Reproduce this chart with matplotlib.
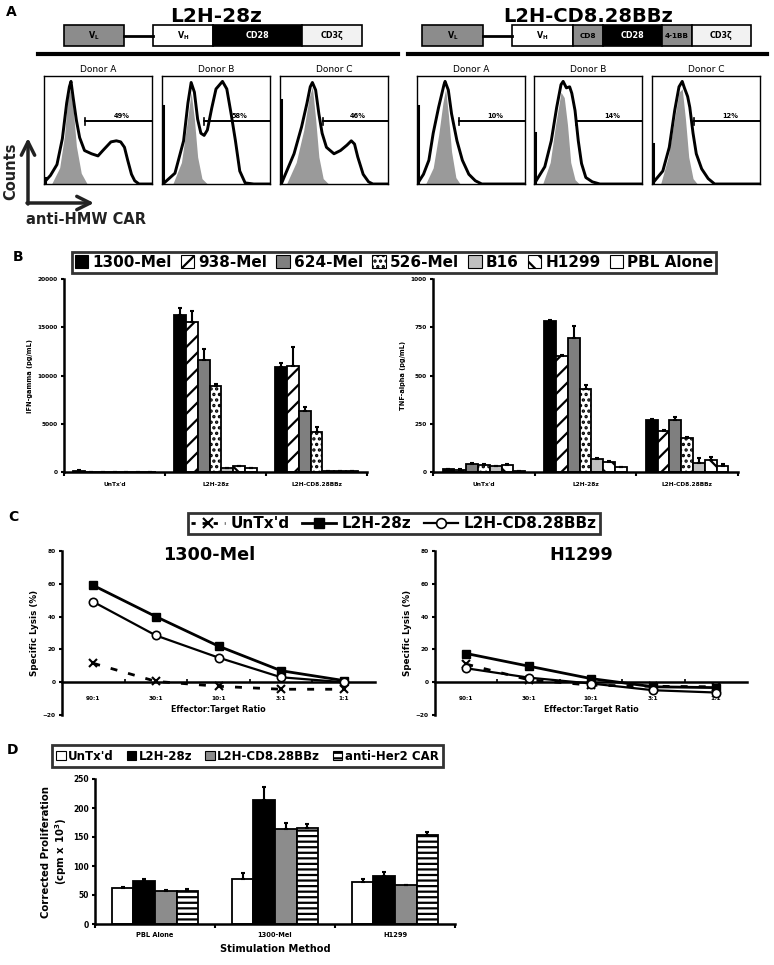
import numpy as np
import matplotlib
matplotlib.use("Agg")
import matplotlib.pyplot as plt
from matplotlib.patches import Patch, Rectangle
from matplotlib.lines import Line2D

W, H = 774, 965

# ---- panel A: flow histograms, x/y as fractions of each plot box
donors = ["Donor A", "Donor B", "Donor C"]
gate_28z = ["49%", "58%", "46%"]
gate_bbz = ["10%", "14%", "12%"]
gate_start_28z = [0.38, 0.39, 0.40]
gate_start_bbz = [0.385, 0.39, 0.39]
edge_28z = [0.06, 0.72, 0.78]
edge_bbz = [0.72, 0.47, 0.37]

car28_x = [[0.015, 0.06, 0.12, 0.17, 0.21, 0.235, 0.25, 0.27, 0.30, 0.33, 0.375, 0.44, 0.50,
            0.545, 0.62, 0.67, 0.71, 0.745, 0.775, 0.81, 0.84, 0.88, 0.99],
           [0.02, 0.12, 0.2, 0.24, 0.27, 0.30, 0.33, 0.36, 0.39, 0.42, 0.46, 0.5, 0.56, 0.6,
            0.64, 0.68, 0.72, 0.77, 0.85, 0.99],
           [0.02, 0.13, 0.2, 0.25, 0.28, 0.3, 0.33, 0.36, 0.39, 0.43, 0.5, 0.56, 0.62, 0.66,
            0.69, 0.72, 0.77, 0.82, 0.86, 0.99]]
car28_y = [[0.03, 0.08, 0.18, 0.42, 0.75, 0.90, 0.95, 0.80, 0.59, 0.43, 0.31, 0.28, 0.26,
            0.31, 0.39, 0.40, 0.39, 0.34, 0.22, 0.09, 0.03, 0.0, 0.0],
           [0.01, 0.1, 0.4, 0.75, 0.94, 0.85, 0.6, 0.47, 0.45, 0.5, 0.7, 0.88, 0.95, 0.88,
            0.65, 0.4, 0.12, 0.01, 0.0, 0.0],
           [0.02, 0.28, 0.53, 0.75, 0.9, 0.94, 0.87, 0.65, 0.47, 0.34, 0.28, 0.31, 0.36, 0.40,
            0.37, 0.25, 0.09, 0.02, 0.0, 0.0]]
neg28_x = [[0.07, 0.145, 0.19, 0.22, 0.245, 0.27, 0.30, 0.345, 0.40],
           [0.1, 0.18, 0.23, 0.27, 0.30, 0.33, 0.37, 0.42],
           [0.06, 0.15, 0.22, 0.27, 0.3, 0.33, 0.36, 0.4, 0.45]]
neg28_y = [[0, 0.15, 0.45, 0.80, 0.88, 0.70, 0.35, 0.10, 0.0],
           [0, 0.2, 0.55, 0.85, 0.6, 0.25, 0.05, 0],
           [0, 0.2, 0.5, 0.8, 0.9, 0.6, 0.25, 0.05, 0]]

carbb_x = [[0.015, 0.06, 0.11, 0.15, 0.2, 0.25, 0.26, 0.29, 0.32, 0.37, 0.42, 0.48, 0.54, 0.6, 0.99],
           [0.02, 0.1, 0.16, 0.21, 0.25, 0.27, 0.3, 0.33, 0.35, 0.38, 0.41, 0.44, 0.48, 0.54, 0.61, 0.99],
           [0.025, 0.1, 0.16, 0.21, 0.25, 0.28, 0.3, 0.33, 0.35, 0.38, 0.41, 0.46, 0.52, 0.58, 0.99]]
carbb_y = [[0.02, 0.09, 0.22, 0.47, 0.71, 0.92, 0.95, 0.87, 0.65, 0.4, 0.22, 0.09, 0.03, 0.0, 0.0],
           [0.03, 0.16, 0.4, 0.71, 0.92, 0.95, 0.89, 0.9, 0.84, 0.68, 0.4, 0.19, 0.06, 0.02, 0.0, 0.0],
           [0.03, 0.12, 0.34, 0.68, 0.9, 0.95, 0.89, 0.81, 0.71, 0.47, 0.28, 0.14, 0.05, 0.0, 0.0]]
negbb_x = [[0.08, 0.15, 0.2, 0.24, 0.265, 0.29, 0.32, 0.36, 0.4],
           [0.08, 0.15, 0.2, 0.25, 0.28, 0.31, 0.34, 0.38, 0.42],
           [0.08, 0.15, 0.2, 0.25, 0.28, 0.31, 0.34, 0.38, 0.42]]
negbb_y = [[0, 0.15, 0.45, 0.75, 0.88, 0.65, 0.3, 0.06, 0],
           [0, 0.2, 0.55, 0.85, 0.8, 0.55, 0.2, 0.04, 0],
           [0, 0.25, 0.55, 0.85, 0.88, 0.6, 0.25, 0.05, 0]]

# ---- panel B: cytokine release
cars_b = ["UnTx'd", "L2H-28z", "L2H-CD8.28BBz"]
targets_b = ["1300-Mel", "938-Mel", "624-Mel", "526-Mel", "B16", "H1299", "PBL Alone"]
ifn_vals = [[100, 16300, 10900], [20, 15500, 11000], [20, 11600, 6300], [20, 8900, 4150],
            [20, 450, 100], [30, 650, 120], [50, 420, 130]]
ifn_err = [[60, 650, 350], [0, 1150, 1950], [0, 1150, 450], [0, 250, 500],
           [0, 0, 0], [0, 0, 0], [0, 0, 0]]
tnf_vals = [[15, 780, 268], [12, 600, 215], [43, 695, 270], [38, 432, 178],
            [29, 68, 48], [34, 52, 60], [5, 25, 30]]
tnf_err = [[3, 8, 8], [2, 5, 4], [3, 60, 13], [4, 18, 3],
           [3, 3, 22], [6, 3, 20], [0, 2, 12]]

# ---- panel C: cytotoxicity
ratios = ["90:1", "30:1", "10:1", "3:1", "1:1"]
lysis_series = ["UnTx'd", "L2H-28z", "L2H-CD8.28BBz"]
mel_untx = [11.5, 0.5, -2.5, -4.3, -4.3]
mel_28z = [59, 40, 22, 7, 1]
mel_bbz = [49, 28.5, 15, 3, 0]
h1299_untx = [11, 1.5, -1.8, -2.5, -2.8]
h1299_28z = [17.5, 9.8, 2.2, -2.8, -3.3]
h1299_bbz = [8.5, 2.8, -0.8, -4.9, -6.3]

# ---- panel D: proliferation
stims = ["PBL Alone", "1300-Mel", "H1299"]
groups_d = ["UnTx'd", "L2H-28z", "L2H-CD8.28BBz", "anti-Her2 CAR"]
prolif_vals = [[62, 77, 73], [74, 213, 82], [57, 163, 67], [57, 165, 153]]
prolif_err = [[2, 11, 5], [4, 24, 7], [2, 11, 1], [4, 7, 6]]

plt.rcParams['font.family'] = 'DejaVu Sans'
plt.rcParams['font.weight'] = 'bold'
plt.rcParams['axes.labelweight'] = 'bold'
plt.rcParams['mathtext.default'] = 'bf'
plt.rcParams['hatch.linewidth'] = 1.6


def rect(x0, y0, x1, y1):
    return [x0 / W, 1 - y1 / H, (x1 - x0) / W, (y1 - y0) / H]


fig = plt.figure(figsize=(W / 100, H / 100), dpi=100)
bg = fig.add_axes([0, 0, 1, 1])
bg.set_xlim(0, W)
bg.set_ylim(H, 0)
bg.axis('off')

# panel letters
for letter, (lx, ly) in zip("ABCD", [(11, 12), (18, 257), (13, 517), (13, 750)]):
    bg.text(lx, ly, letter, fontsize=10, ha='center', va='center')

# ---- A: constructs
bg.text(216, 16, "L2H-28z", fontsize=14.5, ha='center', va='center')
bg.text(588, 16, "L2H-CD8.28BBz", fontsize=14, ha='center', va='center')
gray_blk = '#8c8c8c'
light = '#f2f2f2'
parts_28z = [("V$_\\mathregular{L}$", 60, gray_blk, 'k'), (None, 29, None, None),
             ("V$_\\mathregular{H}$", 60, 'white', 'k'), ("CD28", 89, 'black', 'white'),
             ("CD3ζ", 60, light, 'k')]
parts_bbz = [("V$_\\mathregular{L}$", 61, gray_blk, 'k'), (None, 29, None, None),
             ("V$_\\mathregular{H}$", 61, 'white', 'k'), ("CD8", 30, gray_blk, 'k'),
             ("CD28", 59, 'black', 'white'), ("4-1BB", 30, gray_blk, 'k'),
             ("CD3ζ", 59, light, 'k')]


def construct(x0, parts, y0=25, h=21):
    x = x0
    for label, w, fc, tc in parts:
        if label is None:
            bg.plot([x, x + w], [y0 + h / 2] * 2, color='k', lw=2)
        else:
            bg.add_patch(Rectangle((x, y0), w, h, fc=fc, ec='k', lw=1.2))
            bg.text(x + w / 2, y0 + h / 2, label, ha='center', va='center',
                    color=tc, fontsize=5.8 if w > 40 else 5.2)
        x += w


construct(64, parts_28z)
construct(422, parts_bbz)
bg.plot([38, 398], [54, 54], color='k', lw=3)
bg.plot([408, 767], [54, 54], color='k', lw=3)

# Counts / anti-HMW CAR arrows
bg.annotate('', xy=(28, 138), xytext=(28, 204),
            arrowprops=dict(arrowstyle='->', lw=2.5, color='#222222', mutation_scale=24,
                            shrinkA=0, shrinkB=0))
bg.annotate('', xy=(94, 203), xytext=(27, 203),
            arrowprops=dict(arrowstyle='->', lw=2.5, color='#222222', mutation_scale=24,
                            shrinkA=0, shrinkB=0))
bg.text(11, 171, "Counts", rotation=90, fontsize=10.5, ha='center', va='center', color='#222222')
bg.text(26, 219, "anti-HMW CAR", fontsize=10.5, ha='left', va='center', color='#222222')


def histo(x0, i, cx, cy, nx, ny, edge, gstart, glabel):
    ax = fig.add_axes(rect(x0, 76, x0 + 108, 184))
    ax.fill_between(nx[i], ny[i], color='#9a9a9a', lw=0)
    ax.plot(cx[i], cy[i], color='k', lw=2.1)
    ax.plot([0.006, 0.006], [0, edge[i]], color='k', lw=2.2)
    ax.plot([gstart[i], 1.0], [0.58, 0.58], color='k', lw=1.4)
    ax.plot([gstart[i]] * 2, [0.55, 0.61], color='k', lw=1.2)
    ax.text(0.72, 0.6, glabel[i], fontsize=4.8, ha='center', va='bottom')
    ax.set_xlim(0, 1)
    ax.set_ylim(0, 1)
    ax.set_xticks([])
    ax.set_yticks([])
    for s in ax.spines.values():
        s.set_linewidth(1.0)
    ax.set_title(donors[i], fontsize=6.5, pad=3)


for i, x0 in enumerate([44, 162, 280]):
    histo(x0, i, car28_x, car28_y, neg28_x, neg28_y, edge_28z, gate_start_28z, gate_28z)
for i, x0 in enumerate([417, 534, 652]):
    histo(x0, i, carbb_x, carbb_y, negbb_x, negbb_y, edge_bbz, gate_start_bbz, gate_bbz)

# ---- B: cytokines
styles_b = [('black', ''), ('white', '//'), ('#7f7f7f', ''), ('white', '...'),
            ('#c0c0c0', ''), ('white', '\\\\'), ('white', '')]


def bar_panel(ax, cats, vals, errs, styles, width, ylim, yticks, ylabel, tsize, lsize):
    n = len(vals)
    x = np.arange(len(cats))
    for i in range(n):
        pos = x + (i - (n - 1) / 2) * width
        fc, hatch = styles[i]
        ax.bar(pos, vals[i], width, color=fc, edgecolor='k', hatch=hatch, lw=1.3, zorder=2)
        ax.errorbar(pos, vals[i], yerr=[np.zeros(len(cats)), errs[i]], fmt='none', ecolor='k',
                    elinewidth=1.5, capsize=1.5, capthick=1.5, zorder=3)
    ax.set_xlim(-0.5, len(cats) - 0.5)
    ax.set_ylim(*ylim)
    ax.set_yticks(yticks)
    ax.set_xticks(x, cats)
    ax.set_xticks(np.arange(len(cats) + 1) - 0.5, minor=True)
    ax.tick_params(axis='x', which='major', length=0, labelsize=tsize, pad=7)
    ax.tick_params(axis='x', which='minor', length=3, width=1.5, direction='out')
    ax.tick_params(axis='y', length=2.5, width=1.5, labelsize=tsize, pad=2)
    for s in ['top', 'right']:
        ax.spines[s].set_visible(False)
    for s in ['left', 'bottom']:
        ax.spines[s].set_linewidth(1.8)
    ax.set_ylabel(ylabel, fontsize=lsize, labelpad=3)


ax_ifn = fig.add_axes(rect(64, 279, 367, 472))
bar_panel(ax_ifn, cars_b, ifn_vals, ifn_err, styles_b, 0.116, (0, 20000),
          [0, 5000, 10000, 15000, 20000], "IFN-gamma (pg/mL)", 4.2, 4.8)
ax_tnf = fig.add_axes(rect(433, 279, 738, 472))
bar_panel(ax_tnf, cars_b, tnf_vals, tnf_err, styles_b, 0.116, (0, 1000),
          [0, 250, 500, 750, 1000], "TNF-alpha (pg/mL)", 4.2, 4.8)

hb = [Patch(facecolor=fc, edgecolor='k', hatch=h, lw=0.8) for fc, h in styles_b]
leg_b = fig.legend(hb, targets_b, loc='center', bbox_to_anchor=(394 / W, 1 - 262.5 / H),
                   ncol=7, fancybox=False, edgecolor='k', handlelength=0.9, handleheight=0.9,
                   handletextpad=0.25, columnspacing=0.6, borderpad=0.2,
                   prop={'weight': 'bold', 'size': 11})
leg_b.get_frame().set_linewidth(2)

# ---- C: lysis


def lysis_panel(ax, title, untx, z28, bbz):
    x = np.arange(len(ratios)) + 0.5
    ax.plot(x, untx, color='k', ls=(0, (2.5, 4)), lw=2, marker='x', ms=6, mew=1.5, zorder=3)
    ax.plot(x, z28, color='k', lw=2, marker='s', ms=6, zorder=4)
    ax.plot(x, bbz, color='k', lw=1.6, marker='o', ms=6, mfc='white', mew=1.2, zorder=5)
    ax.set_xlim(0, len(ratios))
    ax.set_ylim(-20, 80)
    ax.set_yticks([-20, 0, 20, 40, 60, 80])
    ax.set_xticks(x, ratios)
    ax.set_xticks(np.arange(1, len(ratios)), minor=True)
    ax.spines['bottom'].set_position(('data', 0))
    for s in ['top', 'right']:
        ax.spines[s].set_visible(False)
    for s in ['left', 'bottom']:
        ax.spines[s].set_linewidth(1.8)
    ax.tick_params(axis='x', which='major', length=0, labelsize=4.2, pad=10)
    ax.tick_params(axis='x', which='minor', length=2.5, width=1.2, direction='in')
    ax.tick_params(axis='y', length=2.5, width=1.5, labelsize=4.2, pad=2)
    ax.set_ylabel("Specific Lysis (%)", fontsize=6.3, labelpad=3)
    ax.set_xlabel("Effector:Target Ratio", fontsize=5.8, labelpad=3)
    ax.text(0.47, 0.976, title, transform=ax.transAxes, fontsize=12.7, ha='center', va='center')


ax_c1 = fig.add_axes(rect(62, 551, 375, 715))
lysis_panel(ax_c1, "1300-Mel", mel_untx, mel_28z, mel_bbz)
ax_c2 = fig.add_axes(rect(435, 551, 747, 715))
lysis_panel(ax_c2, "H1299", h1299_untx, h1299_28z, h1299_bbz)

hc = [Line2D([], [], color='k', ls=(0, (1.5, 2.5)), lw=2, marker='x', ms=7, mew=1.5),
      Line2D([], [], color='k', lw=2, marker='s', ms=7),
      Line2D([], [], color='k', lw=1.6, marker='o', ms=7, mfc='white', mew=1.2)]
leg_c = fig.legend(hc, lysis_series, loc='center', bbox_to_anchor=(394 / W, 1 - 523.5 / H),
                   ncol=3, fancybox=False, edgecolor='k', handlelength=2.2,
                   handletextpad=0.4, columnspacing=0.8, borderpad=0.2,
                   prop={'weight': 'bold', 'size': 11})
leg_c.get_frame().set_linewidth(2)

# ---- D: proliferation
styles_d = [('white', ''), ('black', ''), ('#8c8c8c', ''), ('white', '---')]
ax_d = fig.add_axes(rect(95, 779, 455, 924))
bar_panel(ax_d, stims, prolif_vals, prolif_err, styles_d, 0.18, (0, 250),
          [0, 50, 100, 150, 200, 250], "Corrected Proliferation\n(cpm x 10$^3$)", 5.5, 7.3)
ax_d.tick_params(axis='x', which='major', labelsize=4.8, pad=6)
ax_d.set_xlabel("Stimulation Method", fontsize=7.1, labelpad=4)

hd = [Patch(facecolor=fc, edgecolor='k', hatch=h, lw=0.8) for fc, h in styles_d]
leg_d = fig.legend(hd, groups_d, loc='center', bbox_to_anchor=(247.5 / W, 1 - 756 / H),
                   ncol=4, fancybox=False, edgecolor='k', handlelength=0.8, handleheight=0.9,
                   handletextpad=0.2, columnspacing=1.1, borderpad=0.35,
                   prop={'weight': 'bold', 'size': 8.5})
leg_d.get_frame().set_linewidth(2)

fig.savefig("out.png", dpi=100)
